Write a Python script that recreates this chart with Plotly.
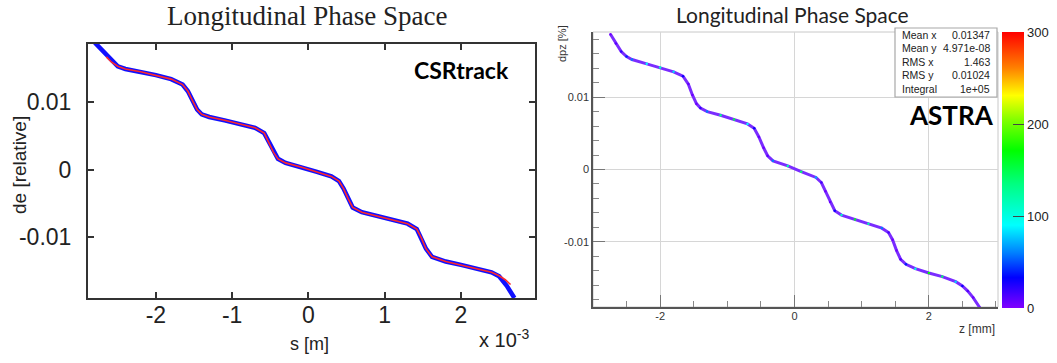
import plotly.graph_objects as go

W, H = 1057, 363

# ---------------- data ----------------
# CSRtrack (left), s in units of 1e-3 m
s_csr = [-2.80, -2.70, -2.60, -2.50, -2.40, -2.20, -2.00, -1.80, -1.65, -1.58, -1.52, -1.46, -1.40,
         -1.30, -1.10, -0.90, -0.70, -0.58, -0.52, -0.46, -0.40, -0.30, -0.10, 0.10, 0.30, 0.40,
         0.46, 0.52, 0.58, 0.70, 0.90, 1.10, 1.30, 1.42, 1.48, 1.54, 1.62, 1.80, 2.00, 2.20, 2.40,
         2.50, 2.60, 2.70]
de_csr = [0.0188, 0.0176, 0.0163, 0.0153, 0.0149, 0.0145, 0.0140, 0.0134, 0.0126, 0.0116, 0.0102,
          0.0089, 0.0082, 0.0078, 0.0073, 0.0068, 0.0062, 0.0054, 0.0041, 0.0026, 0.0016, 0.0010,
          0.0004, -0.0003, -0.0010, -0.0017, -0.0028, -0.0043, -0.0056, -0.0063, -0.0069, -0.0074,
          -0.0080, -0.0088, -0.0101, -0.0117, -0.0129, -0.0136, -0.0141, -0.0146, -0.0152, -0.0158,
          -0.0172, -0.0190]

s_fit = [-2.65, -2.58, -2.50, -2.40, -2.20, -2.00, -1.80, -1.65, -1.58, -1.52, -1.46, -1.40, -1.30,
         -1.10, -0.90, -0.70, -0.58, -0.52, -0.46, -0.40, -0.30, -0.10, 0.10, 0.30, 0.40, 0.46,
         0.52, 0.58, 0.70, 0.90, 1.10, 1.30, 1.42, 1.48, 1.54, 1.62, 1.80, 2.00, 2.20, 2.40, 2.50,
         2.58, 2.65]
de_fit = [0.0167, 0.0159, 0.0153, 0.0149, 0.0145, 0.0140, 0.0134, 0.0126, 0.0116, 0.0102, 0.0089,
          0.0082, 0.0078, 0.0073, 0.0068, 0.0062, 0.0054, 0.0041, 0.0026, 0.0016, 0.0010, 0.0004,
          -0.0003, -0.0010, -0.0017, -0.0028, -0.0043, -0.0056, -0.0063, -0.0069, -0.0074, -0.0080,
          -0.0088, -0.0101, -0.0117, -0.0129, -0.0136, -0.0141, -0.0146, -0.0152, -0.0157, -0.0163,
          -0.0170]

# ASTRA (right), z in mm, dpz in %
z_astra = [-2.74, -2.66, -2.58, -2.50, -2.42, -2.20, -2.00, -1.80, -1.66, -1.58, -1.52, -1.46, -1.40,
           -1.30, -1.10, -0.90, -0.70, -0.60, -0.53, -0.46, -0.40, -0.32, -0.10, 0.10, 0.32, 0.40,
           0.46, 0.53, 0.60, 0.70, 0.90, 1.10, 1.30, 1.40, 1.46, 1.52, 1.58, 1.66, 1.80, 2.00, 2.20,
           2.40, 2.50, 2.58, 2.66, 2.76]
dpz_astra = [0.0187, 0.0174, 0.0163, 0.0156, 0.0152, 0.0146, 0.0141, 0.0135, 0.0129, 0.0118, 0.0103,
             0.0091, 0.0085, 0.0080, 0.0075, 0.0069, 0.0063, 0.0057, 0.0045, 0.0030, 0.0019, 0.0012,
             0.0005, -0.0003, -0.0011, -0.0018, -0.0030, -0.0045, -0.0057, -0.0063, -0.0069, -0.0075,
             -0.0081, -0.0087, -0.0097, -0.0112, -0.0124, -0.0131, -0.0137, -0.0143, -0.0148, -0.0155,
             -0.0161, -0.0168, -0.0177, -0.0191]
counts_astra = [5, 10, 20, 40, 60, 90, 110, 80, 30, 8, 5, 6, 20, 60, 130, 150, 90, 30, 6, 5, 10, 60,
                120, 140, 70, 15, 5, 6, 30, 110, 160, 120, 60, 15, 5, 5, 12, 40, 100, 170, 140, 80,
                30, 12, 6, 4]

left_xticks = [-2, -1, 0, 1, 2]
left_xlabels = ["-2", "-1", "0", "1", "2"]
right_xticks = [-2, 0, 2]
right_xlabels = ["-2", "0", "2"]
yticks = [-0.01, 0, 0.01]
ylabels = ["-0.01", "0", "0.01"]

stat_labels = ["Mean x", "Mean y", "RMS x", "RMS y", "Integral"]
stat_values = ["0.01347", "4.971e-08", "1.463", "0.01024", "1e+05"]

cb_ticks = [0, 100, 200, 300]

root_scale = [[0.0, "#8000ff"], [0.11, "#0000ff"], [0.2, "#0080ff"], [0.3, "#00ffff"],
              [0.45, "#00ff80"], [0.57, "#00ff00"], [0.68, "#80ff00"], [0.77, "#ffff00"],
              [0.87, "#ff8000"], [1.0, "#ff0000"]]

def px(x):
    return x / W

def py(y):
    return 1 - y / H

fig = go.Figure()

# left panel
fig.add_trace(go.Scatter(x=s_csr, y=de_csr, mode="lines", line=dict(color="#1010ff", width=4.5),
                         xaxis="x", yaxis="y", showlegend=False, hoverinfo="skip"))
fig.add_trace(go.Scatter(x=s_fit, y=de_fit, mode="lines", line=dict(color="#ff2a2a", width=1.6),
                         xaxis="x", yaxis="y", showlegend=False, hoverinfo="skip"))

# right panel
fig.add_trace(go.Scatter(x=z_astra, y=dpz_astra, mode="lines", line=dict(color="#7a2cff", width=3.0),
                         xaxis="x2", yaxis="y2", showlegend=False, hoverinfo="skip"))
fig.add_trace(go.Scatter(
    x=z_astra, y=dpz_astra, mode="markers", xaxis="x2", yaxis="y2", showlegend=False,
    hoverinfo="skip",
    marker=dict(size=2.5, color=counts_astra, colorscale=root_scale, cmin=0, cmax=300,
                showscale=True,
                colorbar=dict(x=px(1002), xanchor="left", xpad=0, ypad=0,
                              y=py(170), yanchor="middle", len=276, lenmode="pixels",
                              thickness=22, thicknessmode="pixels", tickvals=cb_ticks,
                              ticks="inside", ticklen=11, tickcolor="#444", tickwidth=1,
                              outlinewidth=0,
                              tickfont=dict(family="Liberation Sans", size=13, color="#222")))))

axis_font_l = dict(family="Liberation Sans", size=23, color="#222")
axis_font_r = dict(family="Liberation Sans", size=11, color="#333")

fig.update_layout(
    width=W, height=H, margin=dict(l=0, r=0, t=0, b=0, pad=0, autoexpand=False),
    paper_bgcolor="white", plot_bgcolor="white",
    xaxis=dict(domain=[px(88), px(535)], range=[-2.89, 2.97], tickvals=left_xticks,
               ticktext=left_xlabels,
               showline=True, linecolor="#333", linewidth=2, mirror="ticks",
               ticks="inside", ticklen=6, tickwidth=1.5, tickcolor="#333",
               showgrid=False, zeroline=False, tickfont=axis_font_l, anchor="y",
               ticklabelstandoff=-5, automargin=False),
    yaxis=dict(domain=[py(298), py(44)], range=[-0.0190, 0.0186], tickvals=yticks,
               ticktext=ylabels,
               showline=True, linecolor="#333", linewidth=2, mirror="ticks",
               ticks="inside", ticklen=6, tickwidth=1.5, tickcolor="#333",
               showgrid=False, zeroline=False, tickfont=axis_font_l, anchor="x",
               ticklabelstandoff=10, automargin=False),
    xaxis2=dict(domain=[px(593), px(998)], range=[-3.0, 3.03], tickvals=right_xticks,
                ticktext=right_xlabels,
                showline=True, linecolor="#555", linewidth=1.5,
                ticks="inside", ticklen=12, tickwidth=1, tickcolor="#777",
                minor=dict(ticks="inside", ticklen=6, dtick=0.5, tick0=0, tickcolor="#888",
                           showgrid=False),
                showgrid=True, gridcolor="#d6d6d6", gridwidth=1, zeroline=False,
                tickfont=axis_font_r, anchor="y2", ticklabelstandoff=-2, automargin=False),
    yaxis2=dict(domain=[py(307), py(32)], range=[-0.019, 0.019], tickvals=yticks,
                ticktext=ylabels,
                showline=True, linecolor="#555", linewidth=1.5,
                ticks="inside", ticklen=12, tickwidth=1, tickcolor="#777",
                minor=dict(ticks="inside", ticklen=6, dtick=0.002, tick0=0, tickcolor="#888",
                           showgrid=False),
                showgrid=True, gridcolor="#d6d6d6", gridwidth=1, zeroline=False,
                tickfont=axis_font_r, anchor="x2", ticklabelstandoff=0, automargin=False),
)

# right frame (light)
fig.add_shape(type="rect", xref="x2 domain", yref="y2 domain", x0=0, x1=1, y0=0, y1=1,
              line=dict(color="#c8c8c8", width=1), layer="below")

# stats box
fig.add_shape(type="rect", xref="paper", yref="paper", x0=px(895), x1=px(997), y0=py(97), y1=py(28),
              line=dict(color="#a8a8a8", width=1.2), fillcolor="white", layer="above")
row_y = [35, 48, 62, 75, 89]
for lab, val, yy in zip(stat_labels, stat_values, row_y):
    fig.add_annotation(x=px(900), y=py(yy), xref="paper", yref="paper", text=lab, showarrow=False,
                       xanchor="left", yanchor="middle",
                       font=dict(family="Liberation Sans", size=10.5, color="#222"))
    fig.add_annotation(x=px(992), y=py(yy), xref="paper", yref="paper", text=val, showarrow=False,
                       xanchor="right", yanchor="middle",
                       font=dict(family="Liberation Sans", size=10.5, color="#222"))

ann = [
    dict(x=px(307), y=py(16), text="Longitudinal Phase Space",
         font=dict(family="Liberation Serif", size=27, color="#222")),
    dict(x=px(792), y=py(15), text="Longitudinal Phase Space",
         font=dict(family="Lato", size=21, color="#222")),
    dict(x=px(461), y=py(70), text="<b>CSRtrack</b>",
         font=dict(family="Lato", size=23, color="#000")),
    dict(x=px(951), y=py(115), text="<b>ASTRA</b>",
         font=dict(family="Lato", size=26, color="#000")),
    dict(x=px(309), y=py(344), text="s [m]",
         font=dict(family="Liberation Sans", size=18, color="#222")),
    dict(x=px(19), y=py(165), text="de [relative]", textangle=-90,
         font=dict(family="Liberation Sans", size=19, color="#222")),
    dict(x=px(977), y=py(329), text="z [mm]",
         font=dict(family="Liberation Sans", size=12, color="#333")),
    dict(x=px(562), y=py(44), text="dpz [%]", textangle=-90,
         font=dict(family="Liberation Sans", size=11, color="#333")),
]
for a in ann:
    fig.add_annotation(xref="paper", yref="paper", showarrow=False, xanchor="center",
                       yanchor="middle", **a)

fig.add_annotation(x=px(477), y=py(338), xref="paper", yref="paper", showarrow=False,
                   xanchor="left", yanchor="middle", text="x 10<sup>-3</sup>",
                   font=dict(family="Liberation Sans", size=20, color="#222"))

fig.write_html("out.html", config={"displayModeBar": False},
               post_script="document.body.style.margin='0';")
